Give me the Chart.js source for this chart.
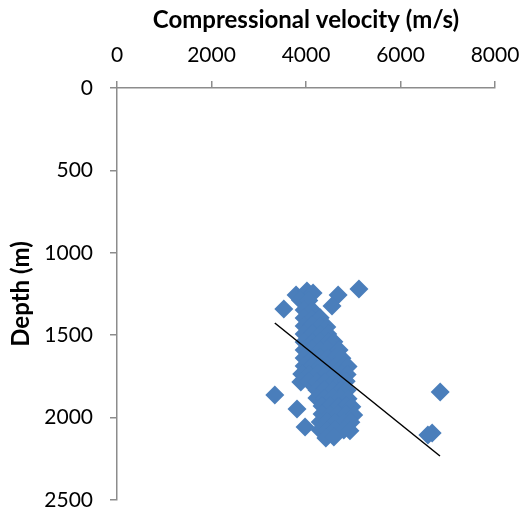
<!DOCTYPE html>
<html>
<head>
<meta charset="utf-8">
<script src="https://cdn.jsdelivr.net/npm/chart.js@4/dist/chart.umd.min.js"></script>
<style>
  html, body { margin: 0; padding: 0; background: #fff; }
  #wrap { width: 527px; height: 515px; }
</style>
</head>
<body>
<div id="wrap"><canvas id="depthChart"></canvas></div>
<script>
// velocity (m/s) vs depth (m)
const velocity = [
    3790, 4020, 4150, 5120, 4680, 4550, 3530,
    3880, 4060,
    3960, 4140,
    3960, 4130, 4300,
    3960, 4130, 4300, 4440,
    3960, 4130, 4300, 4460,
    3960, 4130, 4300, 4460, 4590,
    3960, 4130, 4300, 4460, 4630, 4700,
    3960, 4130, 4300, 4460, 4630, 4760,
    3960, 4130, 4300, 4460, 4630, 4800, 4890,
    3910, 4080, 4250, 4420, 4590, 4760, 4870,
    3890, 4060, 4230, 4400, 4570, 4740, 4850,
    4230, 4400, 4570, 4740, 4870,
    4230, 4400, 4570, 4740, 4890,
    4340, 4510, 4680, 4850, 4970,
    4340, 4510, 4680, 4850, 5010,
    4300, 4460, 4630, 4800, 4950,
    4300, 4460, 4630, 4800, 4930,
    4420, 4590,
    3340, 3810, 3980, 6840, 6670, 6580
];
const depth = [
    1256, 1232, 1244, 1220, 1256, 1323, 1341,
    1286, 1290,
    1347, 1350,
    1396, 1400, 1394,
    1444, 1440, 1446, 1450,
    1493, 1490, 1496, 1492,
    1541, 1545, 1538, 1542, 1540,
    1590, 1586, 1592, 1588, 1594, 1590,
    1638, 1642, 1636, 1640, 1634, 1640,
    1687, 1684, 1690, 1686, 1688, 1684, 1690,
    1735, 1738, 1732, 1736, 1740, 1734, 1738,
    1784, 1780, 1786, 1782, 1788, 1784, 1780,
    1833, 1830, 1836, 1832, 1834,
    1881, 1884, 1878, 1882, 1886,
    1930, 1926, 1932, 1928, 1934,
    1978, 1982, 1976, 1980, 1984,
    2027, 2024, 2030, 2026, 2028,
    2075, 2078, 2072, 2076, 2080,
    2124, 2118,
    1863, 1948, 2057, 1845, 2093, 2105
];

// linear trend line end points
const trendVelocity = [3340, 6835];
const trendDepth = [1426, 2233];

const velocityTicks = [0, 2000, 4000, 6000, 8000];
const depthTicks = [0, 500, 1000, 1500, 2000, 2500];

const points = velocity.map((v, i) => ({ x: v, y: depth[i] }));
const trend = trendVelocity.map((v, i) => ({ x: v, y: trendDepth[i] }));

const axisColor = "#8c8c8c";
const fontFamily = "Lato, 'Open Sans', sans-serif";

function fixTicks(values) {
    return function (scale) {
        scale.ticks = values.map(v => ({ value: v }));
    };
}

new Chart(document.getElementById("depthChart"), {
    type: "scatter",
    data: {
        datasets: [
            {
                label: "Trend",
                data: trend,
                showLine: true,
                borderColor: "#000000",
                borderWidth: 1.5,
                pointRadius: 0,
                order: 0
            },
            {
                label: "Vp",
                data: points,
                pointStyle: "rectRot",
                pointRadius: 9.5,
                pointBackgroundColor: "#4a7ebb",
                pointBorderWidth: 0,
                order: 1
            }
        ]
    },
    options: {
        responsive: true,
        maintainAspectRatio: false,
        animation: false,
        layout: {
            padding: { left: 0, top: 0, right: 32, bottom: 15 }
        },
        plugins: {
            legend: { display: false },
            tooltip: { enabled: false }
        },
        scales: {
            x: {
                type: "linear",
                position: "top",
                min: velocityTicks[0],
                max: velocityTicks[velocityTicks.length - 1],
                afterBuildTicks: fixTicks(velocityTicks),
                afterFit: scale => {
                    scale.height = 88;
                    scale.paddingLeft = 0;
                    scale.paddingRight = 0;
                },
                grid: {
                    drawOnChartArea: false,
                    color: axisColor,
                    tickLength: 7,
                    lineWidth: 1.5
                },
                border: { color: axisColor, width: 1.5 },
                ticks: {
                    color: "#000",
                    padding: 13,
                    maxRotation: 0,
                    callback: v => String(v),
                    font: { family: fontFamily, size: 21 }
                },
                title: {
                    display: true,
                    text: "Compressional velocity (m/s)",
                    color: "#000",
                    padding: { top: 6, bottom: 0 },
                    font: { family: fontFamily, size: 24, weight: "bold" }
                }
            },
            y: {
                type: "linear",
                reverse: true,
                min: depthTicks[0],
                max: depthTicks[depthTicks.length - 1],
                afterBuildTicks: fixTicks(depthTicks),
                afterFit: scale => {
                    scale.width = 117;
                    scale.paddingTop = 0;
                    scale.paddingBottom = 0;
                },
                grid: {
                    drawOnChartArea: false,
                    color: axisColor,
                    tickLength: 7,
                    lineWidth: 1.5
                },
                border: { color: axisColor, width: 1.5 },
                ticks: {
                    color: "#000",
                    padding: 17,
                    callback: v => String(v),
                    font: { family: fontFamily, size: 21 }
                },
                title: {
                    display: true,
                    text: "Depth (m)",
                    color: "#000",
                    padding: { top: 7, bottom: 0 },
                    font: { family: fontFamily, size: 24, weight: "bold" }
                }
            }
        }
    }
});
</script>
</body>
</html>
